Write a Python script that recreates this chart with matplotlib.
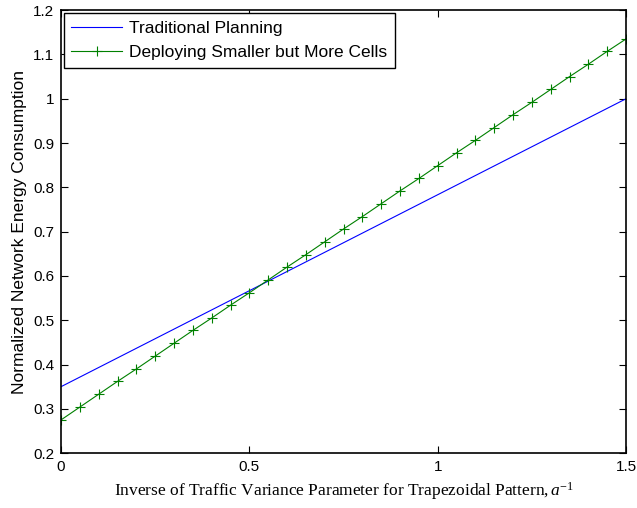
import matplotlib
matplotlib.use("Agg")
import matplotlib.pyplot as plt

x_green = [0.00, 0.05, 0.10, 0.15, 0.20, 0.25, 0.30, 0.35, 0.40, 0.45, 0.50,
           0.55, 0.60, 0.65, 0.70, 0.75, 0.80, 0.85, 0.90, 0.95, 1.00,
           1.05, 1.10, 1.15, 1.20, 1.25, 1.30, 1.35, 1.40, 1.45, 1.50]
y_green = [0.275, 0.304, 0.333, 0.362, 0.390, 0.419, 0.448, 0.477, 0.505, 0.534, 0.562,
           0.591, 0.620, 0.648, 0.677, 0.706, 0.734, 0.763, 0.792, 0.820, 0.849,
           0.878, 0.906, 0.935, 0.964, 0.992, 1.021, 1.050, 1.078, 1.107, 1.135]
x_blue = [0.0, 1.5]
y_blue = [0.35, 1.0]

xticks = [0, 0.5, 1, 1.5]
xtick_labels = ["0", "0.5", "1", "1.5"]
yticks = [0.2, 0.3, 0.4, 0.5, 0.6, 0.7, 0.8, 0.9, 1.0, 1.1, 1.2]
ytick_labels = ["0.2", "0.3", "0.4", "0.5", "0.6", "0.7", "0.8", "0.9", "1", "1.1", "1.2"]

plt.rcParams['font.family'] = ['Liberation Sans', 'DejaVu Sans']
plt.rcParams['mathtext.fontset'] = 'custom'
plt.rcParams['mathtext.it'] = 'Liberation Serif:italic'
plt.rcParams['mathtext.rm'] = 'Liberation Serif'

fig = plt.figure(figsize=(6.37, 5.08), dpi=100)
ax = fig.add_axes([0.0958, 0.108, 0.887, 0.872])

ax.plot(x_blue, y_blue, color='#0000ff', lw=0.8, label='Traditional Planning')
ax.plot(x_green, y_green, color='#008000', lw=0.8, marker='+', markersize=7.5,
        markeredgewidth=0.8, label='Deploying Smaller but More Cells')

ax.set_xlim(0, 1.5)
ax.set_ylim(0.2, 1.2)
ax.set_xticks(xticks)
ax.set_xticklabels(xtick_labels)
ax.set_yticks(yticks)
ax.set_yticklabels(ytick_labels)
ax.tick_params(direction='in', top=True, right=True, length=5, width=0.8, labelsize=11, pad=5)
for s in ax.spines.values():
    s.set_linewidth(1.2)

ax.set_ylabel('Normalized Network Energy Consumption', fontsize=12.5, labelpad=4)
ax.set_xlabel(r'Inverse of Traffic Variance Parameter for Trapezoidal Pattern,$\,a^{\mathit{-1}}$',
              family='Liberation Serif', fontsize=12.5, labelpad=4)

leg = ax.legend(loc='upper left', fontsize=12.5, fancybox=False, edgecolor='black',
                framealpha=1, borderaxespad=0.15, handlelength=2.9, borderpad=0.45,
                labelspacing=0.52, handletextpad=0.4)
leg.get_frame().set_linewidth(1.0)

fig.savefig('out.png', dpi=100)
